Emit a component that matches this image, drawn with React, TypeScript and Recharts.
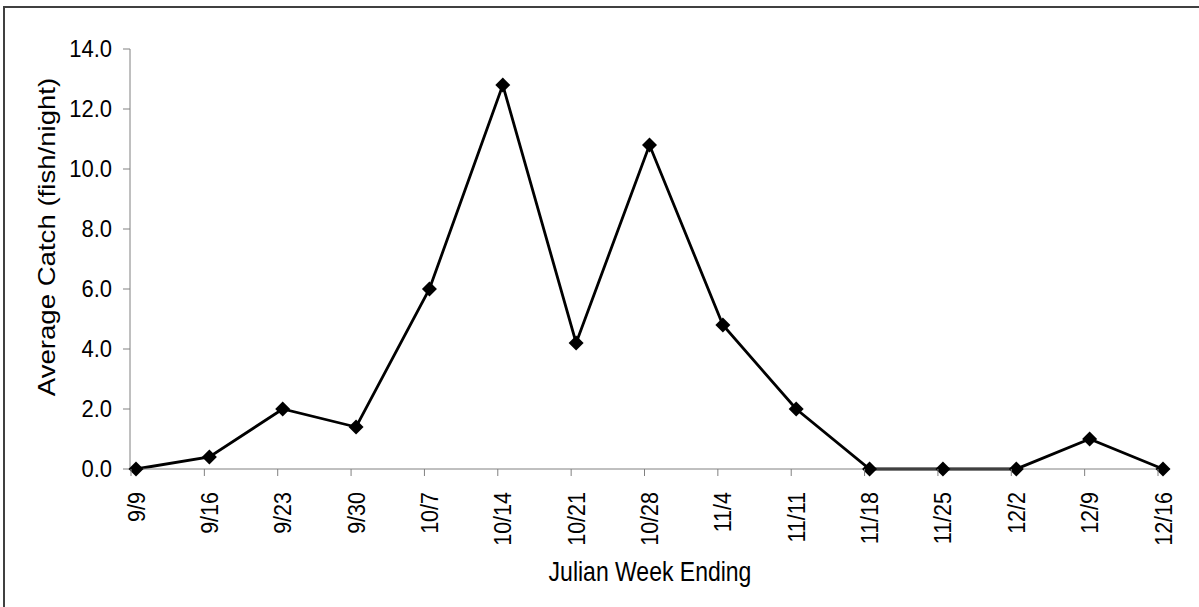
import React from "react";
import { LineChart, Line, XAxis, YAxis } from "recharts";

// weekly catch
const weeks = [
  "9/9", "9/16", "9/23", "9/30", "10/7", "10/14", "10/21", "10/28",
  "11/4", "11/11", "11/18", "11/25", "12/2", "12/9", "12/16",
];
const avgCatch = [0, 0.4, 2.0, 1.4, 6.0, 12.8, 4.2, 10.8, 4.8, 2.0, 0, 0, 0, 1.0, 0];
const yTicks = [0, 2, 4, 6, 8, 10, 12, 14];

const data = weeks.map((week, i) => ({ week, value: avgCatch[i] }));

const FONT = "'Liberation Sans', Arial, sans-serif";
const AXIS = "#808080";

// the original picture is a bit stretched vertically, so the text is too
const Diamond = (props: any) => {
  const { cx, cy } = props;
  if (cx == null || cy == null) return null;
  const r = 7.5;
  return (
    <path
      d={`M${cx},${cy - r}L${cx + r},${cy}L${cx},${cy + r}L${cx - r},${cy}Z`}
      fill="#000"
      stroke="none"
    />
  );
};

const WeekTick = (props: any) => {
  const { x, y, payload } = props;
  return (
    <g>
      <line x1={x - 5} y1={y} x2={x - 5} y2={y + 7} stroke={AXIS} strokeWidth={1} />
      <text
        x={0}
        y={0}
        transform={`translate(${x}, ${y + 23}) rotate(-90) scale(1, 1.15)`}
        textAnchor="end"
        dominantBaseline="central"
        fontFamily={FONT}
        fontSize={21.5}
        fill="#000"
      >
        {payload.value}
      </text>
    </g>
  );
};

const CatchTick = (props: any) => {
  const { x, y, payload } = props;
  return (
    <text
      x={0}
      y={0}
      transform={`translate(${x}, ${y}) scale(1, 1.12)`}
      textAnchor="end"
      dominantBaseline="central"
      fontFamily={FONT}
      fontSize={22}
      fill="#000"
    >
      {Number(payload.value).toFixed(1)}
    </text>
  );
};

const YTitle = () => (
  <text
    x={0}
    y={0}
    transform="translate(47, 237) rotate(-90) scale(1.2, 1)"
    textAnchor="middle"
    dominantBaseline="central"
    fontFamily={FONT}
    fontSize={23}
    fill="#000"
  >
    Average Catch (fish/night)
  </text>
);

const XTitle = () => (
  <text
    x={0}
    y={0}
    transform="translate(650, 581) scale(1, 1.22)"
    textAnchor="middle"
    fontFamily={FONT}
    fontSize={23}
    fill="#000"
  >
    Julian Week Ending
  </text>
);

export default function App() {
  return (
    <div
      style={{
        position: "absolute",
        left: 0,
        top: 0,
        width: 1199,
        height: 607,
        overflow: "hidden",
        background: "#fff",
      }}
    >
      <div
        style={{
          position: "absolute",
          left: 3,
          top: 6,
          width: 1300,
          height: 700,
          border: "2px solid #404040",
        }}
      />
      <LineChart
        width={1199}
        height={607}
        data={data}
        margin={{ top: 49, right: 29, left: 70, bottom: 38 }}
        style={{ position: "absolute", left: 0, top: 0 }}
      >
        <XAxis
          dataKey="week"
          height={100}
          interval={0}
          padding={{ left: 6, right: 7 }}
          stroke={AXIS}
          tickLine={false}
          tickSize={0}
          tickMargin={0}
          tick={<WeekTick />}
          label={<XTitle />}
        />
        <YAxis
          width={60}
          domain={[0, 14]}
          ticks={yTicks}
          interval={0}
          stroke={AXIS}
          tickSize={7}
          tickMargin={11}
          tick={<CatchTick />}
          label={<YTitle />}
        />
        <Line
          type="linear"
          dataKey="value"
          stroke="#000"
          strokeWidth={2.8}
          dot={<Diamond />}
          activeDot={false}
          isAnimationActive={false}
        />
      </LineChart>
    </div>
  );
}
